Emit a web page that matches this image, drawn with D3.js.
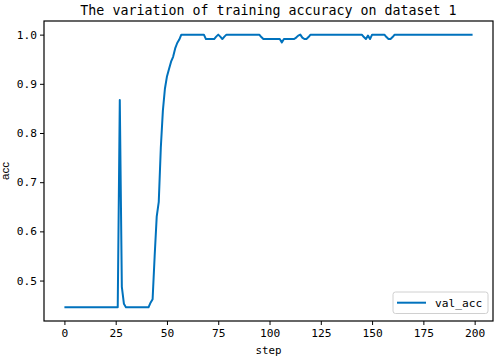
<!DOCTYPE html>
<html>
<head>
<meta charset="utf-8">
<script src="https://cdn.jsdelivr.net/npm/d3@7"></script>
<style>
  body { margin: 0; background: #fff; }
  text { font-family: "DejaVu Sans Mono", monospace; fill: #000; }
</style>
</head>
<body>
<div class="container"></div>
<script>
// val_acc per step
const valAcc = [
  0.4455, 0.4455, 0.4455, 0.4455, 0.4455, 0.4455, 0.4455, 0.4455, 0.4455, 0.4455,
  0.4455, 0.4455, 0.4455, 0.4455, 0.4455, 0.4455, 0.4455, 0.4455, 0.4455, 0.4455,
  0.4455, 0.4455, 0.4455, 0.4455, 0.4455, 0.4455, 0.4455, 0.867, 0.487, 0.453,
  0.4455, 0.4455, 0.4455, 0.4455, 0.4455, 0.4455, 0.4455, 0.4455, 0.4455, 0.4455,
  0.4455, 0.4455, 0.455, 0.462, 0.55, 0.63, 0.66, 0.77, 0.845, 0.89,
  0.915, 0.93, 0.945, 0.955, 0.972, 0.983, 0.99, 1.0, 1.0, 1.0,
  1.0, 1.0, 1.0, 1.0, 1.0, 1.0, 1.0, 1.0, 1.0, 0.991,
  0.991, 0.991, 0.991, 0.991, 0.996, 1.0, 0.996, 0.991, 0.996, 1.0,
  1.0, 1.0, 1.0, 1.0, 1.0, 1.0, 1.0, 1.0, 1.0, 1.0,
  1.0, 1.0, 1.0, 1.0, 1.0, 1.0, 0.995, 0.991, 0.991, 0.991,
  0.991, 0.991, 0.991, 0.991, 0.991, 0.991, 0.984, 0.991, 0.991, 0.991,
  0.991, 0.991, 0.991, 0.994, 0.998, 1.0, 0.994, 0.991, 0.991, 0.995,
  1.0, 1.0, 1.0, 1.0, 1.0, 1.0, 1.0, 1.0, 1.0, 1.0,
  1.0, 1.0, 1.0, 1.0, 1.0, 1.0, 1.0, 1.0, 1.0, 1.0,
  1.0, 1.0, 1.0, 1.0, 1.0, 1.0, 0.995, 0.991, 0.998, 0.991,
  1.0, 1.0, 1.0, 1.0, 1.0, 1.0, 1.0, 0.995, 0.991, 0.991,
  0.995, 1.0, 1.0, 1.0, 1.0, 1.0, 1.0, 1.0, 1.0, 1.0,
  1.0, 1.0, 1.0, 1.0, 1.0, 1.0, 1.0, 1.0, 1.0, 1.0,
  1.0, 1.0, 1.0, 1.0, 1.0, 1.0, 1.0, 1.0, 1.0, 1.0,
  1.0, 1.0, 1.0, 1.0, 1.0, 1.0, 1.0, 1.0, 1.0, 1.0
]
const steps = valAcc.map((d, i) => i)
const xTicks = [0, 25, 50, 75, 100, 125, 150, 175, 200]
const yTicks = [0.5, 0.6, 0.7, 0.8, 0.9, 1.0]
const title = 'The variation of training accuracy on dataset 1'
const seriesName = 'val_acc'

// Size of plot
const width = 498
const height = 359
const margin = {top: 21, right: 5, bottom: 38, left: 44}
const lineColor = '#0072bd'

const svg = d3.select('.container')
  .append('svg')
  .attr('width', width)
  .attr('height', height)

// matplotlib style 5% padding on both axes
const xPad = (d3.max(steps) - d3.min(steps)) * 0.05
const yPad = (d3.max(valAcc) - d3.min(valAcc)) * 0.05

const x = d3.scaleLinear()
  .domain([d3.min(steps) - xPad, d3.max(steps) + xPad])
  .range([margin.left, width - margin.right])

const y = d3.scaleLinear()
  .domain([d3.min(valAcc) - yPad, d3.max(valAcc) + yPad])
  .range([height - margin.bottom, margin.top])

// the line
const line = d3.line()
  .x((d, i) => x(steps[i]))
  .y(d => y(d))

svg.append('path')
  .datum(valAcc)
  .attr('fill', 'none')
  .attr('stroke', lineColor)
  .attr('stroke-width', 2)
  .attr('stroke-linejoin', 'round')
  .attr('d', line)

// axes
const xAxis = svg.append('g')
  .attr('transform', `translate(0, ${height - margin.bottom})`)
  .call(d3.axisBottom(x).tickValues(xTicks).tickSize(4).tickPadding(4).tickFormat(d3.format('d')))

const yAxis = svg.append('g')
  .attr('transform', `translate(${margin.left}, 0)`)
  .call(d3.axisLeft(y).tickValues(yTicks).tickSize(4).tickPadding(3).tickFormat(d3.format('.1f')))

for (const ax of [xAxis, yAxis]) {
  ax.select('.domain').remove()
  ax.selectAll('line').attr('stroke', '#000').attr('stroke-width', 1)
  ax.selectAll('text')
    .style('font-family', '"DejaVu Sans Mono", monospace')
    .style('font-size', '11.2px')
    .attr('fill', '#000')
}

// frame
svg.append('rect')
  .attr('x', margin.left)
  .attr('y', margin.top)
  .attr('width', width - margin.left - margin.right)
  .attr('height', height - margin.top - margin.bottom)
  .attr('fill', 'none')
  .attr('stroke', '#000')
  .attr('stroke-width', 1.2)

// title and labels
const cx = (margin.left + width - margin.right) / 2
svg.append('text')
  .attr('x', cx)
  .attr('y', 15)
  .attr('text-anchor', 'middle')
  .style('font-size', '13.3px')
  .text(title)

svg.append('text')
  .attr('x', cx)
  .attr('y', 354)
  .attr('text-anchor', 'middle')
  .style('font-size', '10.8px')
  .text('step')

svg.append('text')
  .attr('transform', `translate(9, ${(margin.top + height - margin.bottom) / 2}) rotate(-90)`)
  .attr('text-anchor', 'middle')
  .style('font-family', '"Liberation Sans", Arial, sans-serif')
  .style('font-size', '11.5px')
  .text('acc')

// legend
const legend = svg.append('g')
  .attr('transform', 'translate(393, 292)')

legend.append('rect')
  .attr('width', 95)
  .attr('height', 21.5)
  .attr('rx', 2.5)
  .attr('fill', '#fff')
  .attr('fill-opacity', 0.8)
  .attr('stroke', '#d0d0d0')
  .attr('stroke-width', 1)

legend.append('line')
  .attr('x1', 4).attr('x2', 33)
  .attr('y1', 10.7).attr('y2', 10.7)
  .attr('stroke', lineColor)
  .attr('stroke-width', 2)

legend.append('text')
  .attr('x', 42)
  .attr('y', 15)
  .style('font-size', '11.2px')
  .text(seriesName)
</script>
</body>
</html>
